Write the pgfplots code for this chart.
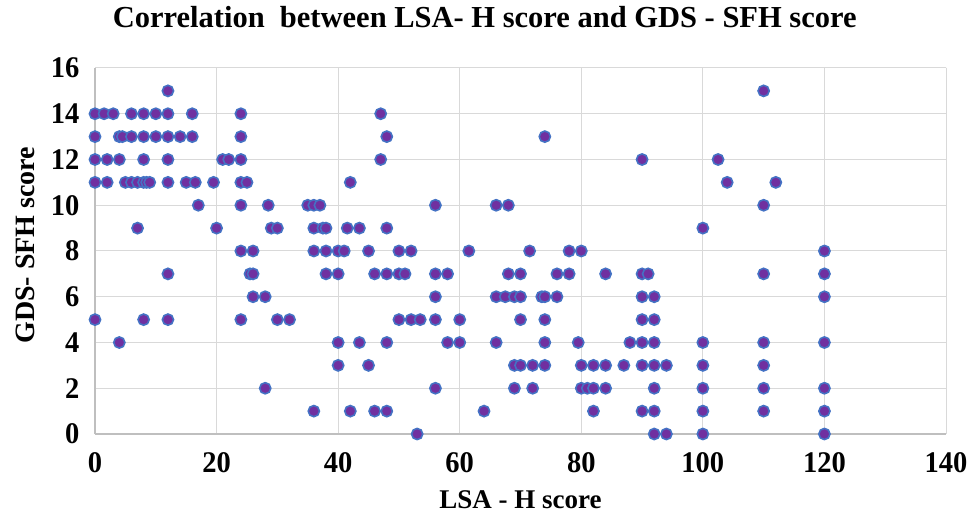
\documentclass[border=0pt]{standalone}
\usepackage{fontspec}
\setmainfont{Liberation Serif}
\newfontfamily\tallfont{Liberation Serif}[FakeStretch=0.95]
\usepackage{pgfplots}
\pgfplotsset{compat=1.18}
\definecolor{mk}{HTML}{7030A0}
\definecolor{mkedge}{HTML}{4472C4}
\definecolor{gridc}{HTML}{D9D9D9}
\definecolor{axc}{HTML}{BFBFBF}
\begin{document}
\begin{tikzpicture}[x=1pt,y=1pt]
\path[use as bounding box] (0,0) rectangle (968,514);
\begin{axis}[
  at={(95pt,80pt)}, anchor=south west,
  scale only axis, width=851pt, height=366pt,
  xmin=0, xmax=140, ymin=0, ymax=16,
  xtick={0,20,...,140}, ytick={0,2,...,16},
  grid=major, major grid style={draw=gridc, line width=1pt},
  axis x line*=bottom, axis y line*=left,
  axis line style={draw=axc, line width=1.4pt, -},
  tick style={draw=none},
  /pgf/number format/assume math mode=true,
  ticklabel style={font=\tallfont\bfseries\fontsize{30}{30}\selectfont},
  xticklabel style={yshift=-15pt},
  yticklabel style={xshift=-12pt},
  title={Correlation\ \ between LSA- H score and GDS - SFH score},
  title style={font=\bfseries\fontsize{30.5}{30.5}\selectfont, at={(axis description cs:0.458,1)}, anchor=base, yshift=34pt},
  xlabel={LSA - H score},
  xlabel style={font=\bfseries\fontsize{27}{27}\selectfont, at={(axis description cs:0.5,0)}, anchor=base, yshift=-74pt},
  ylabel={GDS- SFH score},
  ylabel style={font=\bfseries\fontsize{28}{28}\selectfont, at={(axis description cs:-0.0815,0.516)}, anchor=center},
]
\draw[gridc, line width=1pt] (rel axis cs:0,1) -- (rel axis cs:1,1) -- (rel axis cs:1,0);
\addplot[only marks, mark=*, mark size=5.6pt, mark options={fill=mk, draw=mkedge, line width=1.6pt}] table {
x y
12 15
110 15
0 14
1.5 14
3 14
6 14
8 14
10 14
12 14
16 14
24 14
47 14
0 13
4 13
4.5 13
6 13
8 13
10 13
12 13
14 13
16 13
24 13
48 13
74 13
0 12
2 12
4 12
8 12
12 12
21 12
22 12
24 12
47 12
90 12
102.5 12
0 11
2 11
5 11
6 11
7 11
8 11
8.5 11
9 11
12 11
15 11
16.5 11
19.5 11
24 11
25 11
42 11
104 11
112 11
17 10
24 10
28.5 10
35 10
36 10
37 10
56 10
66 10
68 10
110 10
7 9
20 9
29 9
30 9
36 9
37.5 9
38 9
41.5 9
43.5 9
48 9
100 9
24 8
26 8
36 8
38 8
40 8
41 8
45 8
50 8
52 8
61.5 8
71.5 8
78 8
80 8
120 8
12 7
25.5 7
26 7
38 7
40 7
46 7
48 7
50 7
51 7
56 7
58 7
68 7
70 7
76 7
78 7
84 7
90 7
91 7
110 7
120 7
26 6
28 6
56 6
66 6
67.5 6
69 6
70 6
73.5 6
74 6
76 6
90 6
92 6
120 6
0 5
8 5
12 5
24 5
30 5
32 5
50 5
52 5
53.5 5
56 5
60 5
70 5
74 5
90 5
92 5
4 4
40 4
43.5 4
48 4
58 4
60 4
66 4
74 4
79.5 4
88 4
90 4
92 4
100 4
110 4
120 4
40 3
45 3
69 3
70 3
72 3
74 3
80 3
82 3
84 3
87 3
90 3
92 3
94 3
100 3
110 3
28 2
56 2
69 2
72 2
80 2
81 2
82 2
84 2
92 2
100 2
110 2
120 2
36 1
42 1
46 1
48 1
64 1
82 1
90 1
92 1
100 1
110 1
120 1
53 0
92 0
94 0
100 0
120 0
};
\end{axis}
\end{tikzpicture}
\end{document}
